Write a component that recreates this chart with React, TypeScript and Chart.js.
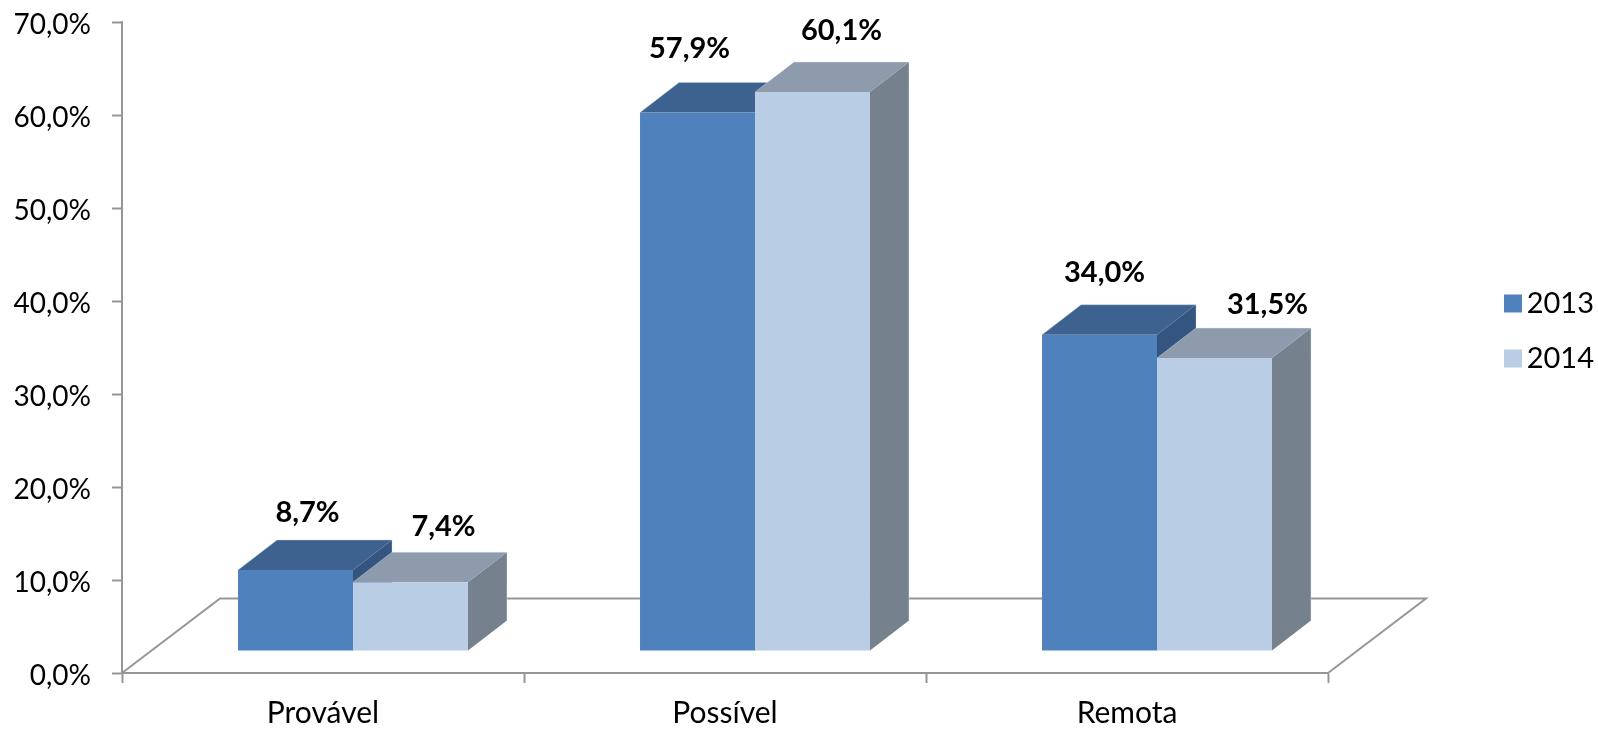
import React, { useEffect, useRef } from "react";
import Chart from "chart.js/auto";

const categories = ["Provável", "Possível", "Remota"];
const seriesNames = ["2013", "2014"];
const values2013 = [8.7, 57.9, 34.0];
const values2014 = [7.4, 60.1, 31.5];

const FONT = "Lato";
const TICK_SIZE = 28;
const VALUE_SIZE = 29;
const CATEGORY_SIZE = 30;
const LEGEND_SIZE = 29;
const GREY = "#969696";
const FRONT = ["#4F81BD", "#B9CDE5"];
const TOP = ["#3E628F", "#8E9BAD"];
const SIDE = ["#34557F", "#75818D"];
const EDGE = ["rgba(185,205,229,0.35)", "rgba(220,230,242,0.4)"];

// 3D projection of the plot
const FLOOR_DX = 98;
const FLOOR_DY = 74.5;
const BAR_SHIFT_X = 30;
const BAR_SHIFT_Y = 22;
const DEPTH_X = 39;
const DEPTH_Y = 30;

// label placement relative to each bar's top centre
const labelDx = [[12, -8, 5], [33, 29, 53]];
const labelDy = [[57, 64, 62], [56, 61, 53]];

const fmt = (v: number) => v.toFixed(1).replace(".", ",") + "%";

function poly(ctx: any, pts: number[][], fill: string) {
  ctx.beginPath();
  pts.forEach((p, i) => (i ? ctx.lineTo(p[0], p[1]) : ctx.moveTo(p[0], p[1])));
  ctx.closePath();
  ctx.fillStyle = fill;
  ctx.fill();
}

const bars3d = {
  id: "bars3d",
  beforeLayout(chart: any) {
    const lg = chart.legend;
    if (lg && !lg.__patched) {
      const orig = lg.fit;
      lg.fit = function () {
        orig.call(this);
        this.width = 270;
      };
      lg.__patched = true;
    }
  },
  afterLayout(chart: any) {
    const lg = chart.legend;
    lg.left = 1478;
    lg.right = 1594;
    lg.top = 263;
    lg.bottom = 420;
  },
  beforeDatasetsDraw(chart: any) {
    const { ctx, chartArea: a } = chart;
    // floor of the 3D box
    ctx.save();
    ctx.strokeStyle = GREY;
    ctx.lineWidth = 2;
    ctx.beginPath();
    ctx.moveTo(a.left, a.bottom);
    ctx.lineTo(a.left + FLOOR_DX, a.bottom - FLOOR_DY);
    ctx.lineTo(a.right + FLOOR_DX, a.bottom - FLOOR_DY);
    ctx.lineTo(a.right, a.bottom);
    ctx.stroke();
    ctx.restore();

    ctx.save();
    ctx.translate(BAR_SHIFT_X, -BAR_SHIFT_Y);
    [0, 1].forEach((d) => {
      chart.getDatasetMeta(d).data.forEach((el: any) => {
        const { x, y, base, width } = el.getProps(["x", "y", "base", "width"], true);
        const l = x - width / 2;
        const r = x + width / 2;
        poly(ctx, [[r, y], [r + DEPTH_X, y - DEPTH_Y], [r + DEPTH_X, base - DEPTH_Y], [r, base]], SIDE[d]);
        poly(ctx, [[l, y], [l + DEPTH_X, y - DEPTH_Y], [r + DEPTH_X, y - DEPTH_Y], [r, y]], TOP[d]);
        ctx.strokeStyle = EDGE[d];
        ctx.lineWidth = 1;
        ctx.beginPath();
        ctx.moveTo(l, y);
        ctx.lineTo(l + DEPTH_X, y - DEPTH_Y);
        ctx.lineTo(r + DEPTH_X, y - DEPTH_Y);
        ctx.lineTo(r + DEPTH_X, base - DEPTH_Y);
        ctx.stroke();
        el.draw(ctx);
      });
    });
    ctx.restore();

    // value labels
    ctx.save();
    ctx.font = `bold ${VALUE_SIZE}px ${FONT}`;
    ctx.fillStyle = "#000";
    ctx.textAlign = "center";
    ctx.textBaseline = "middle";
    [0, 1].forEach((d) => {
      const vals = chart.data.datasets[d].data;
      chart.getDatasetMeta(d).data.forEach((el: any, i: number) => {
        const { x, y } = el.getProps(["x", "y"], true);
        ctx.fillText(fmt(vals[i]), x + BAR_SHIFT_X + labelDx[d][i], y - BAR_SHIFT_Y - labelDy[d][i]);
      });
    });
    ctx.restore();
    return false;
  },
};

export default function App() {
  const ref = useRef<HTMLCanvasElement>(null);
  useEffect(() => {
    const chart = new Chart(ref.current as any, {
      type: "bar",
      data: {
        labels: categories,
        datasets: [
          { label: seriesNames[0], data: values2013, backgroundColor: FRONT[0], borderWidth: 0 },
          { label: seriesNames[1], data: values2014, backgroundColor: FRONT[1], borderWidth: 0 },
        ],
      },
      options: {
        animation: false,
        responsive: false,
        devicePixelRatio: 1,
        layout: { padding: { top: 22, left: 0, right: 0, bottom: 0 } },
        datasets: { bar: { categoryPercentage: 0.572, barPercentage: 1 } },
        plugins: {
          tooltip: { enabled: false },
          legend: {
            position: "right",
            align: "start",
            labels: {
              boxWidth: 18,
              boxHeight: 18,
              padding: 26,
              textAlign: "right",
              color: "#000",
              font: { family: FONT, size: LEGEND_SIZE },
            },
          },
        },
        scales: {
          x: {
            afterFit: (s: any) => { s.height = 56; },
            grid: { drawOnChartArea: false, tickLength: 10, tickColor: GREY, tickWidth: 2, offset: true },
            border: { color: GREY, width: 2 },
            ticks: { color: "#000", padding: 12, maxRotation: 0, font: { family: FONT, size: CATEGORY_SIZE } },
          },
          y: {
            min: 0,
            max: 70,
            afterFit: (s: any) => { s.width = 122; s.paddingTop = 0; s.paddingBottom = 0; },
            grid: { drawOnChartArea: false, tickLength: 10, tickColor: GREY, tickWidth: 2 },
            border: { color: GREY, width: 2 },
            ticks: {
              stepSize: 10,
              color: "#000",
              padding: 21,
              labelOffset: 3,
              font: { family: FONT, size: TICK_SIZE },
              callback: (v: any) => fmt(Number(v)),
            },
          },
        },
      } as any,
      plugins: [bars3d as any],
    });
    return () => chart.destroy();
  }, []);
  return (
    <div style={{ position: "absolute", left: 0, top: 0 }}>
      <canvas ref={ref} width={1598} height={729} style={{ display: "block" }} />
    </div>
  );
}
